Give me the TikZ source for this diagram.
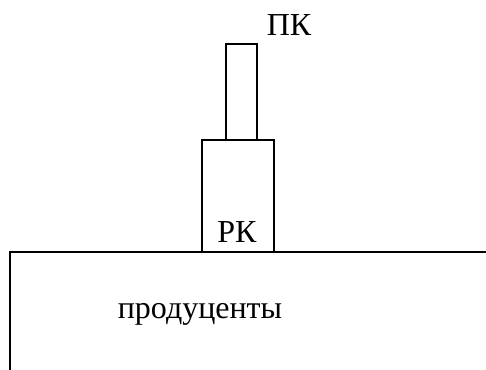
\documentclass[tikz,border=0pt]{standalone}
\usepackage{fontspec}
\setmainfont{Liberation Serif}
\tikzset{
	level/.style={line width=1.5pt},
	lbl/.style={anchor=base, inner sep=0pt, font=\fontsize{24}{28}\selectfont}
}
\begin{document}
\begin{tikzpicture}[x=0.75pt, y=-0.75pt]
	% page: 486 x 369 px
	\useasboundingbox (0, 0) rectangle (486, 369);
	% producers: open block at the bottom
	\draw[level] (486, 252) -- (10, 252) -- (10, 372);
	% first level consumers
	\draw[level] (202, 252) -- (202, 140) -- (274, 140) -- (274, 252);
	% second level consumers
	\draw[level] (226, 140) -- (226, 44) -- (257, 44) -- (257, 140);
	
	\node[lbl] (pk) at (289, 35) {ПК};
	\node[lbl] (rk) at (237, 242) {РК};
	\node[lbl] (prod) at (200, 318) {продуценты};
\end{tikzpicture}
\end{document}
